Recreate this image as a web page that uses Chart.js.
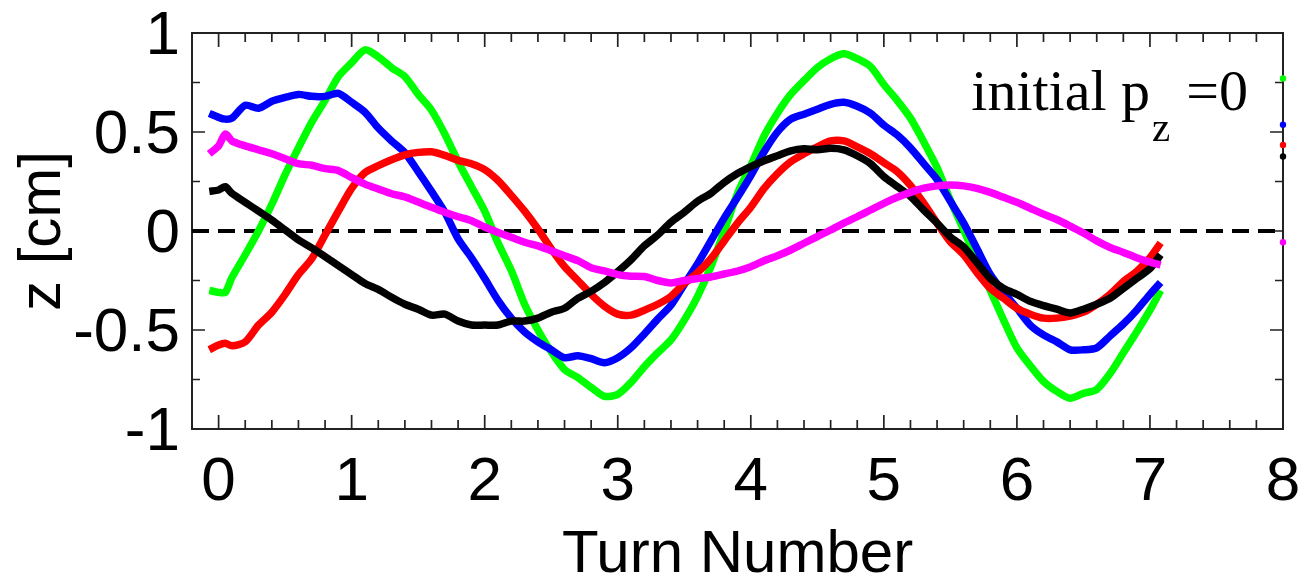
<!DOCTYPE html>
<html><head><meta charset="utf-8">
<script src="https://cdn.jsdelivr.net/npm/chart.js@4.4.1/dist/chart.umd.min.js"></script>
<style>html,body{margin:0;padding:0;background:#fff;overflow:hidden}</style>
</head><body>
<canvas id="c" width="1299" height="585"></canvas>
<script>
const turns = [-0.07, 0.0, 0.05, 0.1, 0.2, 0.3, 0.4, 0.5, 0.6, 0.7, 0.8, 0.9,
  1.0, 1.1, 1.2, 1.3, 1.4, 1.5, 1.6, 1.7, 1.8, 1.9,
  2.0, 2.1, 2.2, 2.3, 2.4, 2.5, 2.6, 2.7, 2.8, 2.9,
  3.0, 3.1, 3.2, 3.3, 3.4, 3.5, 3.6, 3.7, 3.8, 3.9,
  4.0, 4.1, 4.2, 4.3, 4.4, 4.5, 4.6, 4.7, 4.8, 4.9,
  5.0, 5.1, 5.2, 5.3, 5.4, 5.5, 5.6, 5.7, 5.8, 5.9,
  6.0, 6.1, 6.2, 6.3, 6.4, 6.5, 6.6, 6.7, 6.8, 6.9,
  7.0, 7.08];
const zGreen = [-0.30, -0.31, -0.31, -0.235, -0.12, 0.00, 0.135, 0.285, 0.42, 0.55, 0.66, 0.78,
  0.85, 0.915, 0.88, 0.825, 0.78, 0.69, 0.61, 0.49, 0.35, 0.225,
  0.10, -0.06, -0.20, -0.37, -0.50, -0.61, -0.70, -0.74, -0.79, -0.835,
  -0.825, -0.765, -0.685, -0.615, -0.55, -0.45, -0.33, -0.18, 0.00, 0.19,
  0.33, 0.48, 0.595, 0.69, 0.76, 0.825, 0.87, 0.895, 0.87, 0.83,
  0.74, 0.66, 0.57, 0.45, 0.32, 0.155, 0.005, -0.15, -0.30, -0.45,
  -0.59, -0.68, -0.76, -0.81, -0.845, -0.82, -0.80, -0.72, -0.615, -0.51,
  -0.40, -0.30];
const zBlue = [0.594, 0.574, 0.565, 0.57, 0.635, 0.62, 0.655, 0.675, 0.69, 0.68, 0.68, 0.695,
  0.65, 0.60, 0.52, 0.455, 0.395, 0.30, 0.20, 0.095, -0.04, -0.135,
  -0.24, -0.35, -0.44, -0.51, -0.56, -0.60, -0.64, -0.63, -0.645, -0.665,
  -0.64, -0.59, -0.52, -0.445, -0.375, -0.27, -0.165, -0.05, 0.065, 0.17,
  0.28, 0.40, 0.50, 0.565, 0.59, 0.615, 0.64, 0.65, 0.63, 0.595,
  0.535, 0.485, 0.42, 0.34, 0.26, 0.15, 0.04, -0.09, -0.22, -0.31,
  -0.39, -0.475, -0.525, -0.56, -0.60, -0.60, -0.59, -0.53, -0.47, -0.40,
  -0.32, -0.26];
const zRed = [-0.60, -0.576, -0.567, -0.58, -0.56, -0.475, -0.41, -0.32, -0.22, -0.14, -0.02, 0.10,
  0.215, 0.295, 0.33, 0.36, 0.385, 0.397, 0.40, 0.382, 0.357, 0.34,
  0.31, 0.255, 0.18, 0.10, 0.01, -0.09, -0.18, -0.25, -0.32, -0.38,
  -0.42, -0.425, -0.40, -0.37, -0.33, -0.265, -0.21, -0.14, -0.05, 0.04,
  0.12, 0.215, 0.29, 0.35, 0.39, 0.425, 0.455, 0.455, 0.425, 0.39,
  0.345, 0.30, 0.23, 0.14, 0.04, -0.055, -0.12, -0.21, -0.29, -0.34,
  -0.39, -0.42, -0.44, -0.44, -0.43, -0.41, -0.37, -0.32, -0.255, -0.205,
  -0.135, -0.06];
const zBlack = [0.20, 0.207, 0.224, 0.19, 0.145, 0.10, 0.055, 0.005, -0.045, -0.085, -0.13, -0.175,
  -0.22, -0.265, -0.295, -0.335, -0.37, -0.395, -0.425, -0.42, -0.455, -0.475,
  -0.475, -0.475, -0.455, -0.455, -0.44, -0.41, -0.39, -0.34, -0.305, -0.26,
  -0.205, -0.145, -0.075, -0.02, 0.045, 0.095, 0.15, 0.19, 0.245, 0.29,
  0.325, 0.355, 0.38, 0.405, 0.415, 0.41, 0.418, 0.41, 0.38, 0.34,
  0.275, 0.225, 0.175, 0.105, 0.04, -0.03, -0.08, -0.16, -0.24, -0.29,
  -0.32, -0.355, -0.377, -0.395, -0.414, -0.395, -0.37, -0.34, -0.29, -0.24,
  -0.19, -0.12];
const zMagenta = [0.39, 0.43, 0.49, 0.455, 0.43, 0.41, 0.39, 0.365, 0.34, 0.332, 0.315, 0.305,
  0.27, 0.237, 0.212, 0.188, 0.172, 0.146, 0.12, 0.095, 0.072, 0.052,
  0.02, -0.007, -0.032, -0.057, -0.075, -0.10, -0.125, -0.15, -0.185, -0.202,
  -0.22, -0.228, -0.23, -0.25, -0.262, -0.25, -0.24, -0.232, -0.217, -0.202,
  -0.18, -0.15, -0.125, -0.096, -0.062, -0.028, 0.005, 0.04, 0.072, 0.106,
  0.14, 0.17, 0.195, 0.216, 0.228, 0.232, 0.228, 0.215, 0.195, 0.17,
  0.145, 0.115, 0.085, 0.058, 0.025, -0.01, -0.05, -0.083, -0.108, -0.135,
  -0.157, -0.172];
const edgeTurn = 8;
const edgeValues = [0.77, 0.537, 0.434, 0.376, -0.057];
const seriesColors = ['#00ff00', '#0000ff', '#ff0000', '#000000', '#ff00ff'];
const xTickValues = [0, 1, 2, 3, 4, 5, 6, 7, 8];
const xTickLabels = ['0', '1', '2', '3', '4', '5', '6', '7', '8'];
const yTickValues = [-1, -0.5, 0, 0.5, 1];
const yTickLabels = ['-1', '-0.5', '0', '0.5', '1'];
const xRange = [-0.2, 8];
const yRange = [-1, 1];
const zeroLineValue = 0;
const annotationParts = ['initial p', 'z', '=0'];

const toXY = arr => arr.map((v, i) => ({x: turns[i], y: v}));
const series = [zGreen, zBlue, zRed, zBlack, zMagenta];

const datasets = [{
  data: [{x: xRange[0], y: zeroLineValue}, {x: xRange[1], y: zeroLineValue}],
  borderColor: '#000', borderWidth: 4, borderDash: [17, 9], pointRadius: 0,
  showLine: true, order: 10
}];
series.forEach((s, i) => {
  datasets.push({
    data: toXY(s), borderColor: seriesColors[i], backgroundColor: seriesColors[i],
    borderWidth: 7.5, pointRadius: 0, showLine: true, tension: 0.25,
    borderJoinStyle: 'round', borderCapStyle: 'butt', order: 5 - i
  });
});
datasets.push({
  data: edgeValues.map(v => ({x: edgeTurn, y: v})),
  showLine: false, pointRadius: 3.2, pointBorderWidth: 0,
  pointBackgroundColor: seriesColors, pointBorderColor: seriesColors,
  clip: false, order: 0
});

const framePlugin = {
  id: 'frame',
  beforeDatasetsDraw(chart) {
    const {ctx, chartArea: a, scales: {x, y}} = chart;
    ctx.save();
    ctx.strokeStyle = '#222';
    ctx.lineWidth = 2;
    ctx.strokeRect(a.left, a.top, a.right - a.left, a.bottom - a.top);
    ctx.lineWidth = 1.7;
    ctx.beginPath();
    for (let k = -1; k <= 40; k++) {
      const val = k / 5;
      const px = x.getPixelForValue(val);
      if (px < a.left + 2 || px > a.right - 2) continue;
      const len = (k % 5 === 0) ? 14 : 9;
      ctx.moveTo(px, a.bottom); ctx.lineTo(px, a.bottom - len);
      ctx.moveTo(px, a.top); ctx.lineTo(px, a.top + len);
    }
    for (let k = -4; k <= 4; k++) {
      const val = k / 4;
      const py = y.getPixelForValue(val);
      if (py < a.top + 2 || py > a.bottom - 2) continue;
      const len = (k % 2 === 0) ? 13 : 8;
      ctx.moveTo(a.left, py); ctx.lineTo(a.left + len, py);
      ctx.moveTo(a.right, py); ctx.lineTo(a.right - len, py);
    }
    ctx.stroke();
    ctx.restore();
  },
  afterDatasetsDraw(chart) {
    const {ctx, chartArea: a} = chart;
    ctx.save();
    ctx.fillStyle = '#000';
    ctx.textBaseline = 'alphabetic';
    const big = "58px 'Liberation Serif', 'Times New Roman', serif";
    const small = "41px 'Liberation Serif', 'Times New Roman', serif";
    ctx.font = big;
    const w1 = ctx.measureText(annotationParts[0]).width;
    const w3 = ctx.measureText(annotationParts[2]).width;
    ctx.font = small;
    const w2 = ctx.measureText(annotationParts[1]).width;
    const gap2 = 16;
    const total = w1 + 2 + w2 + gap2 + w3;
    const xEnd = a.right - 35;
    const x0 = xEnd - total;
    const base = a.top + 77;
    ctx.font = big;
    ctx.fillText(annotationParts[0], x0, base);
    ctx.font = small;
    ctx.fillText(annotationParts[1], x0 + w1 + 2, base + 31);
    ctx.font = big;
    ctx.fillText(annotationParts[2], x0 + w1 + 2 + w2 + gap2, base);
    ctx.restore();
  }
};

Chart.defaults.font.family = "'Liberation Sans', Arial, Helvetica, sans-serif";
Chart.defaults.color = '#000';

new Chart(document.getElementById('c'), {
  type: 'scatter',
  data: {datasets},
  options: {
    responsive: false, animation: false, devicePixelRatio: 1,
    layout: {padding: {top: 33, right: 16, left: 0, bottom: 0}},
    plugins: {legend: {display: false}, tooltip: {enabled: false}},
    scales: {
      x: {
        type: 'linear', min: xRange[0], max: xRange[1],
        afterBuildTicks: s => { s.ticks = xTickValues.map(v => ({value: v})); },
        afterFit: s => { s.height = 156; s.paddingLeft = 0; s.paddingRight = 0; },
        grid: {display: false, drawTicks: false},
        border: {display: false},
        ticks: {
          padding: 17, maxRotation: 0, autoSkip: false, color: '#000',
          font: {size: 62},
          callback: (v, i) => xTickLabels[i]
        },
        title: {display: true, text: 'Turn Number', color: '#000',
          font: {size: 60, lineHeight: 1}, padding: {top: 0, bottom: 0}}
      },
      y: {
        type: 'linear', min: yRange[0], max: yRange[1],
        afterBuildTicks: s => { s.ticks = yTickValues.map(v => ({value: v})); },
        afterFit: s => { s.width = 192; s.paddingTop = 0; s.paddingBottom = 0; },
        grid: {display: false, drawTicks: false},
        border: {display: false},
        ticks: {
          padding: 12, labelOffset: 4, autoSkip: false, color: '#000',
          font: {size: 62},
          callback: (v, i) => yTickLabels[i]
        },
        title: {display: true, text: 'z [cm]', color: '#000',
          font: {size: 60, lineHeight: 1.2}, padding: {top: 7, bottom: 0}}
      }
    }
  },
  plugins: [framePlugin]
});
</script>
</body></html>
